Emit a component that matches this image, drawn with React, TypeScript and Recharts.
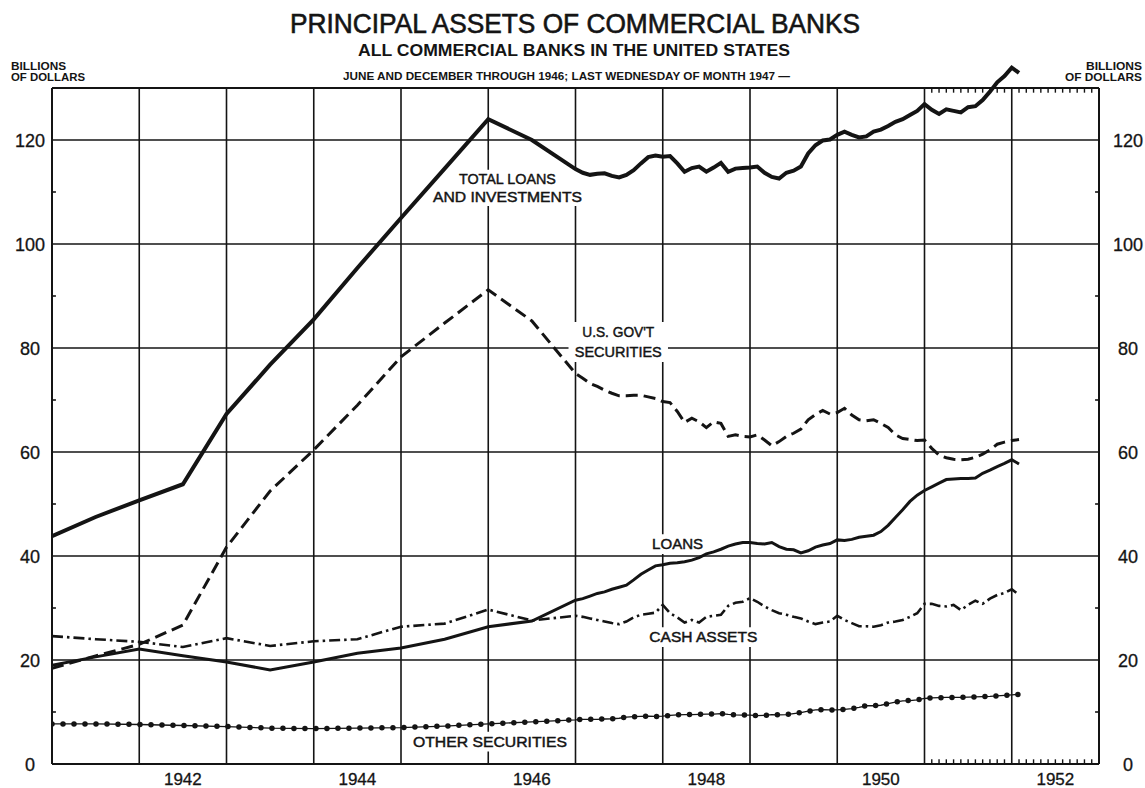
import React from 'react';
import { LineChart, Line, XAxis, YAxis, ReferenceLine, ReferenceArea, CartesianGrid } from 'recharts';

// ---- periods (Dec 1940 – Dec 1946 semiannual; Jan 1947 – Jan 1952 monthly) ----
const semiPeriods = [
  '1940-12', '1941-06', '1941-12', '1942-06', '1942-12', '1943-06', '1943-12',
  '1944-06', '1944-12', '1945-06', '1945-12', '1946-06', '1946-12',
];
const monthlyYears = [1947, 1948, 1949, 1950, 1951];
const monthlyPeriods: string[] = [];
monthlyYears.forEach((y) => {
  for (let m = 1; m <= 12; m++) monthlyPeriods.push(`${y}-${String(m).padStart(2, '0')}`);
});
monthlyPeriods.push('1952-01');

// ---- series values, billions of dollars ----
const totalSemi = [43.8, 47.5, 50.7, 53.8, 67.3, 76.8, 85.5, 95.4, 105.0, 114.5, 124.0, 120.0, 114.4];
const totalMonthly = [
  113.7, 113.3, 113.5, 113.6, 113.1, 112.8, 113.3, 114.2, 115.5, 116.7, 117.0, 116.8,
  116.9, 115.5, 113.9, 114.6, 114.9, 113.9, 114.7, 115.6, 113.9, 114.5, 114.6, 114.7,
  114.9, 113.7, 112.9, 112.6, 113.7, 114.1, 114.9, 117.4, 119.0, 119.9, 120.1, 121.0,
  121.6, 121.0, 120.5, 120.7, 121.6, 122.0, 122.7, 123.5, 124.0, 124.8, 125.6, 126.9,
  125.8, 125.0, 125.9, 125.6, 125.3, 126.3, 126.5, 127.7, 129.3, 131.1, 132.3, 133.9,
  132.9,
];

const govSemi = [18.4, 20.8, 23.0, 26.7, 41.7, 52.5, 60.4, 69.0, 78.3, 84.8, 91.2, 85.2, 75.1];
const govMonthly = [
  74.2, 73.2, 72.6, 71.9, 71.3, 70.8, 70.8, 70.9, 70.9, 70.6, 70.3, 69.7,
  69.5, 67.8, 65.7, 66.5, 65.8, 64.7, 65.8, 65.5, 63.0, 63.3, 63.0, 62.9,
  63.3, 62.3, 61.2, 62.0, 63.0, 63.6, 64.4, 66.2, 67.2, 68.0, 67.3, 67.6,
  68.4, 67.1, 66.2, 66.0, 66.2, 65.5, 64.7, 63.3, 62.6, 62.4, 62.2, 62.3,
  60.7, 59.4, 58.9, 58.6, 58.5, 58.6, 59.0, 59.6, 60.4, 61.5, 61.9, 62.2,
  62.4,
];

const loansSemi = [19.0, 20.6, 22.1, 20.8, 19.6, 18.1, 19.6, 21.3, 22.3, 24.0, 26.4, 27.5, 31.5];
const loansMonthly = [
  31.8, 32.3, 32.8, 33.1, 33.6, 34.0, 34.4, 35.4, 36.5, 37.3, 38.1, 38.3,
  38.6, 38.7, 38.9, 39.2, 39.7, 40.4, 40.8, 41.3, 41.9, 42.3, 42.6, 42.6,
  42.4, 42.3, 42.6, 41.8, 41.3, 41.2, 40.6, 41.0, 41.7, 42.1, 42.4, 43.1,
  43.0, 43.2, 43.6, 43.8, 44.0, 44.7, 45.9, 47.4, 48.9, 50.5, 51.7, 52.6,
  53.3, 54.0, 54.7, 54.8, 54.9, 54.9, 55.0, 55.9, 56.5, 57.2, 57.8, 58.5,
  57.7,
];

const cashSemi = [24.6, 24.0, 23.5, 22.5, 24.2, 22.7, 23.6, 24.0, 26.4, 27.0, 29.7, 27.6, 28.5];
const cashMonthly = [
  28.3, 28.0, 27.7, 27.4, 27.1, 26.9, 27.4, 28.2, 28.7, 28.9, 29.1, 30.6,
  29.0, 28.2, 27.2, 27.7, 27.2, 28.3, 28.5, 28.7, 30.4, 31.0, 31.2, 31.9,
  31.2, 30.3, 29.6, 29.0, 28.7, 28.3, 28.0, 27.4, 26.9, 27.2, 27.4, 28.5,
  27.7, 27.1, 26.5, 26.5, 26.4, 26.7, 27.2, 27.4, 27.7, 28.3, 29.0, 30.8,
  30.8, 30.4, 30.3, 30.6, 29.6, 30.6, 31.4, 30.8, 31.8, 32.5, 32.9, 33.6,
  32.5,
];

const otherSemi = [7.7, 7.7, 7.6, 7.4, 7.2, 6.9, 6.8, 6.9, 7.0, 7.3, 7.7, 8.1, 8.5];
const otherMonthly = [
  8.6, 8.6, 8.6, 8.65, 8.7, 8.8, 9.0, 9.1, 9.15, 9.2, 9.15, 9.2,
  9.35, 9.45, 9.5, 9.5, 9.55, 9.6, 9.6, 9.7, 9.55, 9.45, 9.4, 9.4,
  9.3, 9.35, 9.5, 9.45, 9.5, 9.7, 9.9, 10.15, 10.4, 10.45, 10.4, 10.4,
  10.5, 10.65, 10.9, 11.2, 11.2, 11.3, 11.6, 11.9, 12.15, 12.2, 12.35, 12.6,
  12.7, 12.75, 12.8, 12.8, 12.8, 12.85, 12.9, 12.95, 13.0, 13.1, 13.2, 13.3,
  13.4,
];

// ---- axis / grid values ----
const yTicks = [0, 20, 40, 60, 80, 100, 120];
const yMinorTicks = [10, 30, 50, 70, 90, 110];
const gridValues = [20, 40, 60, 80, 100, 120];
const gridYears = [1942, 1943, 1944, 1945, 1946, 1947, 1948, 1949, 1950, 1951, 1952];
const labelYears = [1942, 1944, 1946, 1948, 1950, 1952];
const FRAME_TOP = 130;
const Y_MAX = 135;
const X_START = 1941;
const X_END = 1953;
const hatchStart = 1951;

const toT = (p: string) => {
  const [y, m] = p.split('-').map(Number);
  return y + m / 12;
};

const periods = [...semiPeriods, ...monthlyPeriods];
const total = [...totalSemi, ...totalMonthly];
const gov = [...govSemi, ...govMonthly];
const loans = [...loansSemi, ...loansMonthly];
const cash = [...cashSemi, ...cashMonthly];
const other = [...otherSemi, ...otherMonthly];

const rows = periods.map((p, i) => ({
  t: toT(p),
  total: total[i],
  gov: gov[i],
  loans: loans[i],
  cash: cash[i],
  other: other[i],
}));

const hatchMonths: number[] = [];
for (let k = 1; k < 24; k++) if (k !== 12) hatchMonths.push(hatchStart + k / 12);

const FONT = '"Liberation Sans", Arial, sans-serif';
const INK = '#141414';

const BoxLabel = (props: any) => {
  const { viewBox, lines, widths, size } = props;
  if (!viewBox) return null;
  const { x, y, width, height } = viewBox;
  const n = lines.length;
  return (
    <g>
      {lines.map((ln: string, i: number) => (
        <text
          key={i}
          x={x + width / 2}
          y={y + (height * (i + 0.5)) / n + size * 0.36}
          textAnchor="middle"
          fontFamily={FONT}
          fontSize={size}
          fill={INK}
          stroke={INK}
          strokeWidth={0.45}
          textLength={widths[i]}
          lengthAdjust="spacingAndGlyphs"
        >
          {ln}
        </text>
      ))}
    </g>
  );
};

const LeftTick = (props: any) => {
  const { y, payload } = props;
  return (
    <text x={30} y={y} dy={6.5} textAnchor="middle" fontFamily={FONT} fontSize={18} fill={INK} stroke={INK} strokeWidth={0.3}>
      {payload.value}
    </text>
  );
};
const RightTick = (props: any) => {
  const { y, payload } = props;
  return (
    <text x={1128} y={y} dy={6.5} textAnchor="middle" fontFamily={FONT} fontSize={18} fill={INK} stroke={INK} strokeWidth={0.3}>
      {payload.value}
    </text>
  );
};
const BottomTick = (props: any) => {
  const { x, payload } = props;
  return (
    <text x={x} y={785} textAnchor="middle" fontFamily={FONT} fontSize={17} fill={INK} stroke={INK} strokeWidth={0.3}>
      {Math.floor(payload.value)}
    </text>
  );
};

export default function App() {
  return (
    <div style={{ position: 'absolute', left: 0, top: 0, width: 1145, height: 788, background: '#fff' }}>
      <LineChart width={1145} height={788} data={rows} margin={{ top: 62, right: 0, bottom: 0, left: 0 }}>
        <XAxis
          type="number"
          dataKey="t"
          domain={[X_START, X_END]}
          ticks={labelYears.map((y) => y + 0.5)}
          axisLine={false}
          tickLine={false}
          height={24}
          tick={<BottomTick />}
          allowDataOverflow
        />
        <YAxis
          yAxisId="l"
          domain={[0, Y_MAX]}
          ticks={yTicks}
          axisLine={false}
          tickLine={false}
          width={52}
          tick={<LeftTick />}
          allowDataOverflow
        />
        <YAxis
          yAxisId="r"
          orientation="right"
          domain={[0, Y_MAX]}
          ticks={yTicks}
          axisLine={false}
          tickLine={false}
          width={46}
          tick={<RightTick />}
          allowDataOverflow
        />

        <CartesianGrid
          yAxisId="l"
          verticalValues={gridYears}
          horizontalValues={gridValues}
          stroke={INK}
          strokeWidth={1.6}
          strokeOpacity={1}
        />

        {/* blank band above the frame */}
        <ReferenceArea yAxisId="l" x1={X_START} x2={X_END} y1={FRAME_TOP} y2={Y_MAX} fill="#fff" fillOpacity={1} stroke="none" />

        <ReferenceArea
          yAxisId="l"
          x1={1945.28}
          x2={1947.16}
          y1={107.3}
          y2={114.3}
          fill="#fff"
          fillOpacity={1}
          stroke="none"
          label={<BoxLabel lines={['TOTAL LOANS', 'AND INVESTMENTS']} widths={[97, 149]} size={14.5} />}
        />
        <ReferenceArea
          yAxisId="l"
          x1={1946.92}
          x2={1948.06}
          y1={77.3}
          y2={85.0}
          fill="#fff"
          fillOpacity={1}
          stroke="none"
          label={<BoxLabel lines={["U.S. GOV'T", 'SECURITIES']} widths={[72, 87]} size={14.5} />}
        />
        <ReferenceArea
          yAxisId="l"
          x1={1947.82}
          x2={1948.52}
          y1={40.4}
          y2={44.2}
          fill="#fff"
          fillOpacity={1}
          stroke="none"
          label={<BoxLabel lines={['LOANS']} widths={[51]} size={14.5} />}
        />
        <ReferenceArea
          yAxisId="l"
          x1={1947.8}
          x2={1949.13}
          y1={22.5}
          y2={26.3}
          fill="#fff"
          fillOpacity={1}
          stroke="none"
          label={<BoxLabel lines={['CASH ASSETS']} widths={[108]} size={14.5} />}
        />
        <ReferenceArea
          yAxisId="l"
          x1={1945.08}
          x2={1946.96}
          y1={2.4}
          y2={6.2}
          fill="#fff"
          fillOpacity={1}
          stroke="none"
          label={<BoxLabel lines={['OTHER SECURITIES']} widths={[154]} size={14.5} />}
        />

        <ReferenceLine yAxisId="l" segment={[{ x: X_START, y: 0 }, { x: X_START, y: FRAME_TOP }]} stroke={INK} strokeWidth={2} />
        <ReferenceLine yAxisId="l" segment={[{ x: X_END, y: 0 }, { x: X_END, y: FRAME_TOP }]} stroke={INK} strokeWidth={2} />
        <ReferenceLine yAxisId="l" segment={[{ x: X_START, y: 0 }, { x: X_END, y: 0 }]} stroke={INK} strokeWidth={2} />
        <ReferenceLine yAxisId="l" segment={[{ x: X_START, y: FRAME_TOP }, { x: X_END, y: FRAME_TOP }]} stroke={INK} strokeWidth={2} />
        {yMinorTicks.map((v) => (
          <ReferenceLine key={`ml${v}`} yAxisId="l" segment={[{ x: X_START, y: v }, { x: X_START + 0.045, y: v }]} stroke={INK} strokeWidth={1.6} />
        ))}
        {yMinorTicks.map((v) => (
          <ReferenceLine key={`mr${v}`} yAxisId="l" segment={[{ x: X_END - 0.045, y: v }, { x: X_END, y: v }]} stroke={INK} strokeWidth={1.6} />
        ))}
        {hatchMonths.map((m) => (
          <ReferenceLine key={`ht${m}`} yAxisId="l" segment={[{ x: m, y: FRAME_TOP }, { x: m, y: FRAME_TOP - 0.9 }]} stroke={INK} strokeWidth={1.4} />
        ))}
        {hatchMonths.map((m) => (
          <ReferenceLine key={`hb${m}`} yAxisId="l" segment={[{ x: m, y: 0 }, { x: m, y: 0.9 }]} stroke={INK} strokeWidth={1.4} />
        ))}

        <Line yAxisId="l" type="linear" dataKey="other" stroke={INK} strokeWidth={1.3} dot={false} isAnimationActive={false} />
        <Line
          yAxisId="l"
          type="linear"
          dataKey="other"
          stroke={INK}
          strokeWidth={5.5}
          strokeDasharray="0 11"
          strokeLinecap="round"
          dot={false}
          isAnimationActive={false}
        />
        <Line yAxisId="l" type="linear" dataKey="cash" stroke={INK} strokeWidth={2.6} strokeDasharray="11 4 2.5 4" dot={false} isAnimationActive={false} />
        <Line yAxisId="l" type="linear" dataKey="loans" stroke={INK} strokeWidth={3} dot={false} isAnimationActive={false} />
        <Line yAxisId="l" type="linear" dataKey="gov" stroke={INK} strokeWidth={3} strokeDasharray="12 6" dot={false} isAnimationActive={false} />
        <Line yAxisId="l" type="linear" dataKey="total" stroke={INK} strokeWidth={4} dot={false} isAnimationActive={false} />
      </LineChart>

      <svg width={1145} height={90} style={{ position: 'absolute', left: 0, top: 0, pointerEvents: 'none' }}>
        <text x={575} y={33} textAnchor="middle" fontFamily={FONT} fontSize={27} fill={INK} stroke={INK} strokeWidth={0.6} textLength={570} lengthAdjust="spacingAndGlyphs">
          PRINCIPAL ASSETS OF COMMERCIAL BANKS
        </text>
        <text x={574} y={56} textAnchor="middle" fontFamily={FONT} fontSize={17} fontWeight="bold" fill={INK} textLength={432} lengthAdjust="spacingAndGlyphs">
          ALL COMMERCIAL BANKS IN THE UNITED STATES
        </text>
        <text x={343} y={80} fontFamily={FONT} fontSize={11} fontWeight="bold" fill={INK} textLength={447} lengthAdjust="spacingAndGlyphs">
          JUNE AND DECEMBER THROUGH 1946; LAST WEDNESDAY OF MONTH 1947 —
        </text>
        <text x={11} y={70} fontFamily={FONT} fontSize={10.5} fontWeight="bold" fill={INK} textLength={55} lengthAdjust="spacingAndGlyphs">
          BILLIONS
        </text>
        <text x={11} y={81} fontFamily={FONT} fontSize={10.5} fontWeight="bold" fill={INK} textLength={74} lengthAdjust="spacingAndGlyphs">
          OF DOLLARS
        </text>
        <text x={1142} y={70} textAnchor="end" fontFamily={FONT} fontSize={10.5} fontWeight="bold" fill={INK} textLength={56} lengthAdjust="spacingAndGlyphs">
          BILLIONS
        </text>
        <text x={1142} y={81} textAnchor="end" fontFamily={FONT} fontSize={10.5} fontWeight="bold" fill={INK} textLength={77} lengthAdjust="spacingAndGlyphs">
          OF DOLLARS
        </text>
      </svg>
    </div>
  );
}
